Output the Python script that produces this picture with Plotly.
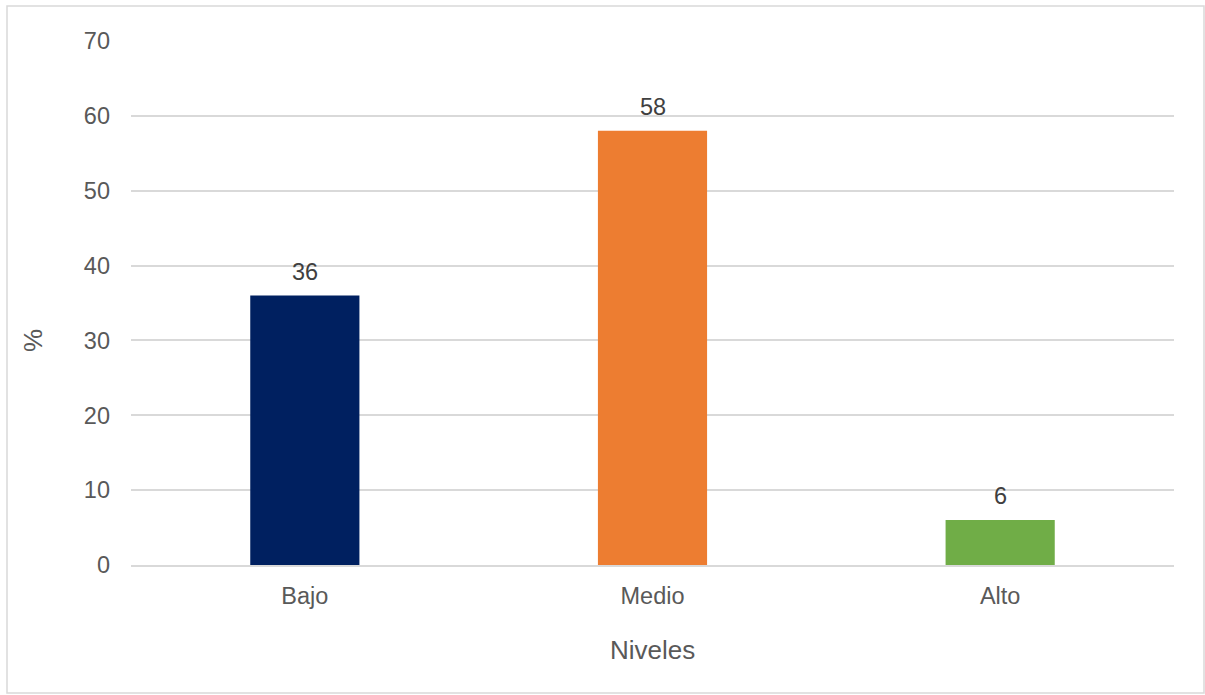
import plotly.graph_objects as go

categories = ["Bajo", "Medio", "Alto"]
values = [36, 58, 6]
colors = ["#002060", "#ED7D31", "#70AD47"]
y_ticks = [0, 10, 20, 30, 40, 50, 60, 70]

W, H = 1205, 695
L, R, T, B = 131, 31, 41, 130
pw, ph = W - L - R, H - T - B

text_color = "#595959"
font = "Liberation Sans, Arial, sans-serif"
tick_size = 23.5
title_size = 26

fig = go.Figure()
fig.add_trace(go.Bar(
    x=categories, y=values,
    marker=dict(color=colors, line=dict(width=0)),
    hoverinfo="x+y",
))

for c, v in zip(categories, values):
    fig.add_annotation(
        x=c, y=v, text=str(v), showarrow=False,
        xref="x", yref="y", yanchor="bottom", yshift=9,
        font=dict(family=font, size=tick_size, color="#404040"),
    )

# axis titles
fig.add_annotation(
    x=0.5, y=(H - B - 650) / ph, xref="paper", yref="paper",
    text="Niveles", showarrow=False, xanchor="center", yanchor="middle",
    font=dict(family=font, size=title_size, color=text_color),
)
fig.add_annotation(
    x=(33 - L) / pw, y=(H - B - 341) / ph, xref="paper", yref="paper",
    text="%", showarrow=False, textangle=-90, xanchor="center", yanchor="middle",
    font=dict(family=font, size=title_size, color=text_color),
)

# outer chart border
fig.add_shape(
    type="rect", xref="paper", yref="paper",
    x0=(7 - L) / pw, x1=(1204 - L) / pw,
    y0=(H - B - 693) / ph, y1=(H - B - 6) / ph,
    line=dict(color="#d9d9d9", width=1.5), layer="below",
)

fig.update_layout(
    width=W, height=H,
    margin=dict(l=L, r=R, t=T, b=B, autoexpand=False),
    paper_bgcolor="white", plot_bgcolor="white",
    bargap=0.686,
    showlegend=False,
    font=dict(family=font, size=tick_size, color=text_color),
)
fig.update_xaxes(
    showgrid=False, showline=True, linecolor="#d9d9d9", linewidth=1.5,
    ticks="", ticklabelstandoff=9, tickfont=dict(size=tick_size, color=text_color),
    automargin=False,
)
fig.update_yaxes(
    range=[0, 70], tickvals=y_ticks, showgrid=True, gridcolor="#d9d9d9", gridwidth=1.5,
    zeroline=False, showline=False, ticks="", ticklabelstandoff=20,
    tickfont=dict(size=tick_size, color=text_color), automargin=False,
)

fig.write_html("out.html")
